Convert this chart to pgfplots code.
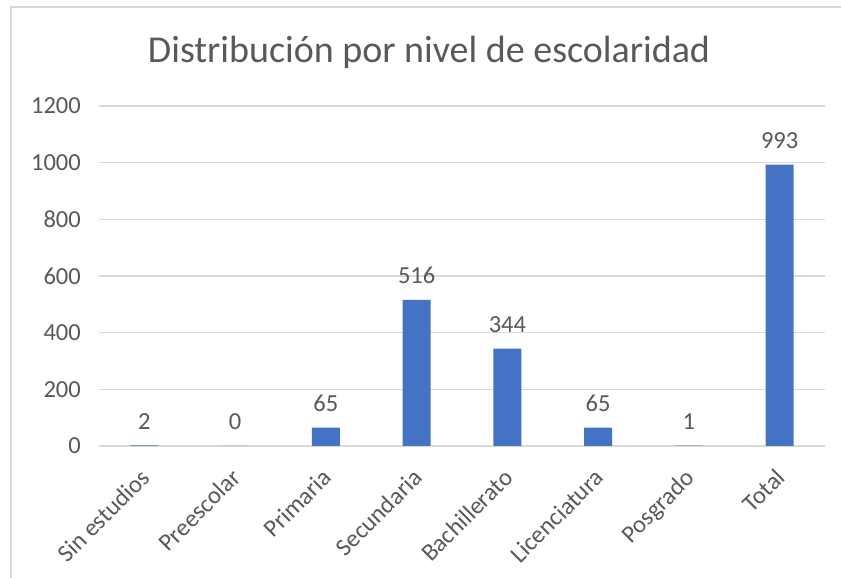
\documentclass[border=0pt]{standalone}
\usepackage{pgfplots}
\pgfplotsset{compat=1.18}
\usepackage{fontspec}
\setmainfont{Carlito}
\definecolor{barblue}{HTML}{4472C4}
\definecolor{txt}{HTML}{595959}
\definecolor{gridgray}{HTML}{D9D9D9}
\begin{document}
\begin{tikzpicture}[x=1bp,y=1bp]
\useasboundingbox (0,0) rectangle (841,578);
\fill[white] (0,0) rectangle (841,578);
\draw[gridgray, line width=1.2bp] (11,-5) -- (11,571) -- (846,571);
\node[text=txt, font=\fontsize{38bp}{42bp}\selectfont, anchor=base] at (429,515) {Distribución por nivel de escolaridad};
\begin{axis}[
  at={(99bp,132bp)}, anchor=south west,
  scale only axis, width=726bp, height=340bp,
  ybar, bar width=28bp,
  xmin=-0.5, xmax=7.5, ymin=0, ymax=1200,
  ytick={0,200,...,1200},
  xtick={0,...,7},
  xticklabels={Sin estudios,Preescolar,Primaria,Secundaria,Bachillerato,Licenciatura,Posgrado,Total},
  ymajorgrids, xmajorgrids=false,
  major grid style={gridgray, line width=1.2bp},
  axis line style={draw=none},
  tick style={draw=none},
  tick label style={text=txt, font=\fontsize{24.5bp}{28bp}\selectfont},
  yticklabel style={inner sep=0pt, xshift=-18bp, /pgf/number format/1000 sep={}},
  xticklabel style={xshift=-5bp, yshift=-17bp, rotate=45, anchor=north east, inner sep=0pt},
  /pgf/number format/assume math mode=true,
  /pgf/number format/1000 sep={},
  nodes near coords,
  every node near coord/.append style={text=txt, font=\fontsize{24.5bp}{28bp}\selectfont, anchor=south, inner sep=0pt, yshift=16bp},
]
\addplot[fill=barblue, draw=none] coordinates {(0,2) (1,0) (2,65) (3,516) (4,344) (5,65) (6,1) (7,993)};
\end{axis}
\end{tikzpicture}
\end{document}
